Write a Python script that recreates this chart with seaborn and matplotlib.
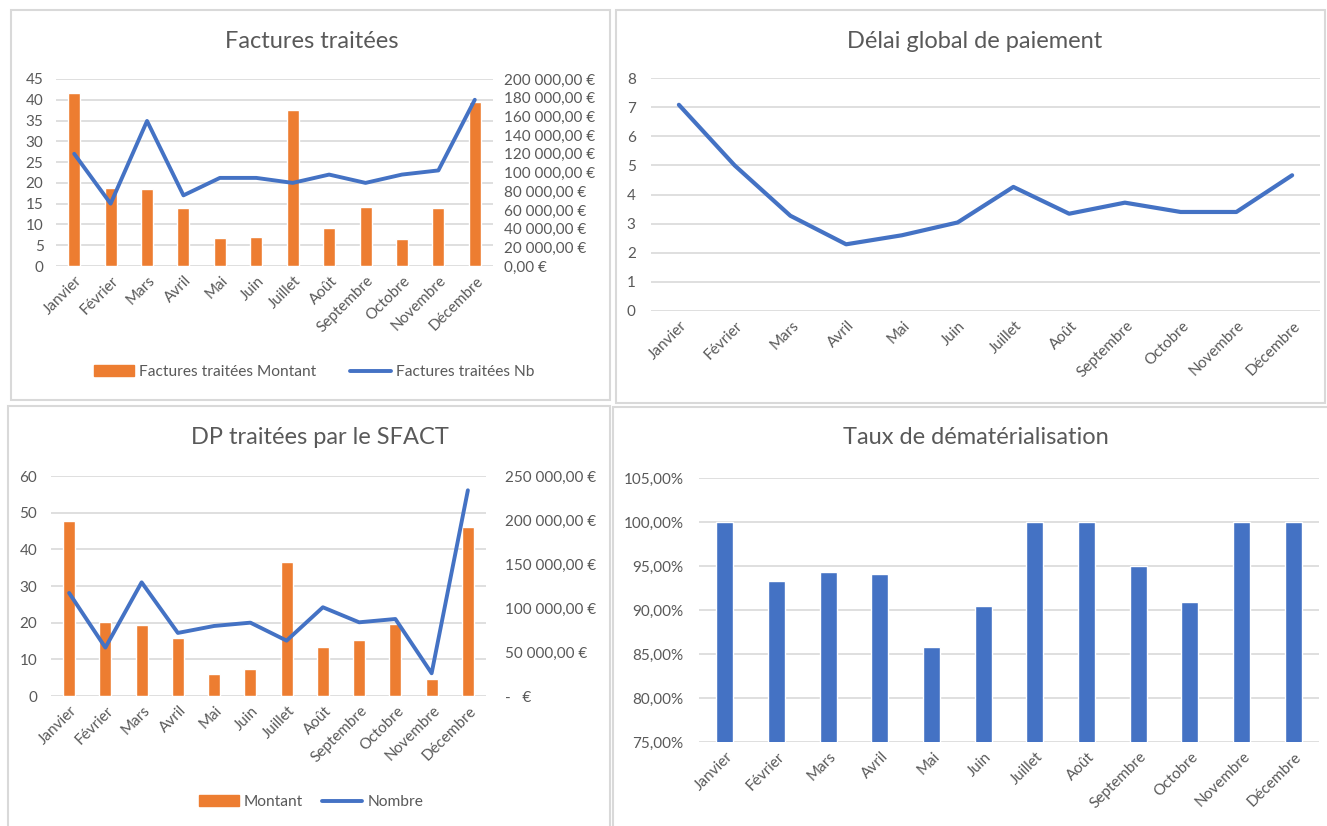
import numpy as np
import seaborn as sns
import matplotlib.pyplot as plt
from matplotlib.patches import Rectangle, Patch
from matplotlib.lines import Line2D
from matplotlib.ticker import FuncFormatter, MultipleLocator
from matplotlib.transforms import ScaledTranslation

mois = ["Janvier", "Février", "Mars", "Avril", "Mai", "Juin", "Juillet",
        "Août", "Septembre", "Octobre", "Novembre", "Décembre"]

# Factures traitées
factures_montant = [185400, 83800, 82800, 61800, 29800, 30900,
                    167300, 40500, 62900, 29100, 61800, 175500]
factures_nb = [27.0, 15.0, 34.9, 17.0, 21.2, 21.2, 20.0, 22.0, 20.0, 22.0, 23.0, 40.0]

# Délai global de paiement
delai = [7.08, 5.0, 3.27, 2.29, 2.6, 3.04, 4.26, 3.34, 3.72, 3.4, 3.4, 4.66]

# DP traitées par le SFACT
dp_montant = [198700, 83700, 80700, 66400, 24900, 30200,
              152000, 56200, 63300, 82200, 18900, 191500]
dp_nombre = [28.1, 13.2, 31.0, 17.2, 19.1, 20.0, 15.1, 24.2, 20.1, 21.0, 6.2, 56.1]

# Taux de dématérialisation
taux = [1.0, 0.9334, 0.9432, 0.9413, 0.8575, 0.9047,
        1.0, 1.0, 0.9504, 0.9096, 1.0, 1.0]

ORANGE = "#ED7D31"
BLUE = "#4472C4"
GRID = "#D9D9D9"
TXT = "#595959"
W, H = 1327, 826
TICK_FS = 11
TITLE_FS = 17

sns.set_theme(style="white")
plt.rcParams["font.family"] = ["Lato", "DejaVu Sans"]

fig = plt.figure(figsize=(W / 100, H / 100), dpi=100)


def box(x0, y0, x1, y1):
    # pixel box (top-left origin) -> figure fraction
    return [x0 / W, 1 - y1 / H, (x1 - x0) / W, (y1 - y0) / H]


def euro(v, _):
    return f"{v:,.2f}".replace(",", " ").replace(".", ",") + " €"


def euro_dash(v, _):
    if abs(v) < 1e-6:
        return "-   €"
    return euro(v, _)


def pct(v, _):
    return f"{v * 100:.2f}%".replace(".", ",")


def clean(ax):
    for s in ax.spines.values():
        s.set_visible(False)
    ax.tick_params(length=0, colors=TXT, labelsize=TICK_FS)
    ax.set_xlabel("")
    ax.set_ylabel("")


def month_ticks(ax):
    ax.set_xlim(-0.5, len(mois) - 0.5)
    ax.set_xticks(range(len(mois)))
    ax.set_xticklabels(mois, rotation=45, ha="right", va="center",
                       rotation_mode="anchor", color=TXT, fontsize=TICK_FS)
    ax.tick_params(axis="x", pad=9)
    shift = ScaledTranslation(6 / 100, 0, fig.dpi_scale_trans)
    for lab in ax.get_xticklabels():
        lab.set_transform(lab.get_transform() + shift)


# cadres des graphiques
for x0, y0, x1, y1 in [(11, 10, 610, 400), (616, 10, 1325, 403),
                       (8, 406, 610, 830), (613, 407, 1330, 830)]:
    fig.patches.append(Rectangle((x0 / W, 1 - y1 / H), (x1 - x0) / W, (y1 - y0) / H,
                                 transform=fig.transFigure, fill=False,
                                 edgecolor=GRID, lw=1.5))


def combo(rect, montant, nb, ymax, ystep, rmax, rstep, rfmt, lpad, rpad):
    ax = fig.add_axes(box(*rect))
    ax.set_ylim(0, ymax)
    ax.yaxis.set_major_locator(MultipleLocator(ystep))
    ax.grid(axis="y", color=GRID, lw=1.2)
    ax.set_axisbelow(True)
    clean(ax)
    ax.tick_params(axis="y", pad=lpad)
    month_ticks(ax)

    ax_bar = ax.twinx()
    sns.barplot(x=mois, y=montant, color=ORANGE, width=0.33, saturation=1,
                ax=ax_bar)
    ax_bar.set_ylim(0, rmax)
    ax_bar.yaxis.set_major_locator(MultipleLocator(rstep))
    ax_bar.yaxis.set_major_formatter(FuncFormatter(rfmt))
    clean(ax_bar)
    ax_bar.tick_params(axis="y", pad=rpad)
    ax_bar.grid(False)
    ax_bar.set_xlim(-0.5, len(mois) - 0.5)

    ax_line = ax.twinx()
    sns.lineplot(x=np.arange(len(mois)), y=nb, color=BLUE, lw=2.8, ax=ax_line)
    ax_line.set_ylim(0, ymax)
    ax_line.set_yticks([])
    clean(ax_line)
    ax_line.set_xlim(-0.5, len(mois) - 0.5)
    return ax


# 1. Factures traitées
combo((56, 79, 493, 266), factures_montant, factures_nb, 45, 5, 200000, 20000,
      euro, 9, 8)
fig.text(312 / W, 1 - 42 / H, "Factures traitées", ha="center", va="center",
         fontsize=TITLE_FS, color=TXT)
fig.legend([Patch(color=ORANGE), Line2D([], [], color=BLUE, lw=2.8)],
           ["Factures traitées Montant", "Factures traitées Nb"],
           loc="center", bbox_to_anchor=(314 / W, 1 - 372 / H), ncol=2,
           frameon=False, fontsize=11.2, labelcolor=TXT, handlelength=2.6,
           handletextpad=0.3, columnspacing=2.2)

# 2. Délai global de paiement
ax2 = fig.add_axes(box(651, 78, 1320, 311))
sns.lineplot(x=np.arange(len(mois)), y=delai, color=BLUE, lw=3.0, ax=ax2)
ax2.set_ylim(0, 8)
ax2.yaxis.set_major_locator(MultipleLocator(1))
ax2.grid(axis="y", color=GRID, lw=1.2)
ax2.set_axisbelow(True)
clean(ax2)
ax2.tick_params(axis="y", pad=11)
month_ticks(ax2)
fig.text(975 / W, 1 - 42 / H, "Délai global de paiement", ha="center",
         va="center", fontsize=TITLE_FS, color=TXT)

# 3. DP traitées par le SFACT
combo((51, 476, 486, 696), dp_montant, dp_nombre, 60, 10, 250000, 50000,
      euro_dash, 10, 14)
fig.text(320 / W, 1 - 438 / H, "DP traitées par le SFACT", ha="center",
         va="center", fontsize=TITLE_FS, color=TXT)
fig.legend([Patch(color=ORANGE), Line2D([], [], color=BLUE, lw=2.8)],
           ["Montant", "Nombre"],
           loc="center", bbox_to_anchor=(311 / W, 1 - 802 / H), ncol=2,
           frameon=False, fontsize=11.2, labelcolor=TXT, handlelength=2.6,
           handletextpad=0.3, columnspacing=1.2)

# 4. Taux de dématérialisation
ax4 = fig.add_axes(box(699, 478, 1319, 742))
sns.barplot(x=mois, y=taux, color=BLUE, width=0.33, saturation=1, ax=ax4)
ax4.set_ylim(0.75, 1.05)
ax4.yaxis.set_major_locator(MultipleLocator(0.05))
ax4.yaxis.set_major_formatter(FuncFormatter(pct))
ax4.grid(axis="y", color=GRID, lw=1.2)
ax4.set_axisbelow(True)
clean(ax4)
ax4.tick_params(axis="y", pad=11)
month_ticks(ax4)
fig.text(976 / W, 1 - 438 / H, "Taux de dématérialisation", ha="center",
         va="center", fontsize=TITLE_FS, color=TXT)

fig.savefig("out.png", dpi=100, facecolor="white")
